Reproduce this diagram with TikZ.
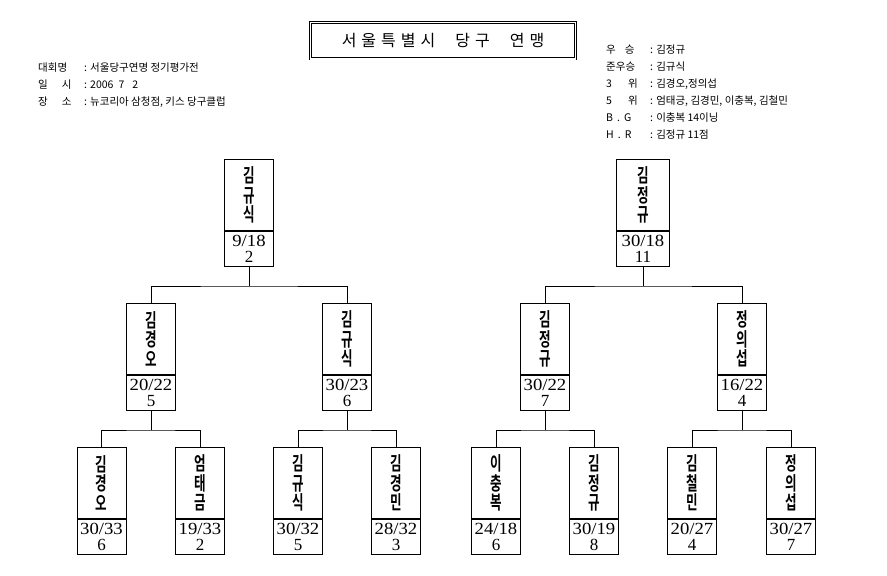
\documentclass[tikz,border=0pt]{standalone}
\usepackage{fontspec}
\usepackage{graphicx}
\setmainfont{Liberation Serif}
\newfontfamily\kor{Noto Sans CJK KR}
\newfontfamily\korbold{Noto Sans CJK KR Bold}
\usetikzlibrary{positioning}

\newcommand{\nch}[1]{\scalebox{0.66}[1]{#1}}
\newcommand{\pname}[3]{\nch{#1}\\\nch{#2}\\\nch{#3}}
\newcommand{\snum}[2]{\scalebox{1.1}[1]{#1}\\#2}
\newcommand{\tsp}{\hspace{5pt}}

\tikzset{
  namebox/.style={draw, line width=1pt, minimum width=49pt, minimum height=71pt, inner sep=0pt,
    align=center, anchor=north, font=\korbold\fontsize{19}{19.5}\selectfont},
  scorebox/.style={draw, line width=1pt, minimum width=49pt, minimum height=35pt, inner sep=0pt,
    align=center, anchor=north, font=\fontsize{17}{16.5}\selectfont},
  info/.style={anchor=west, inner sep=0pt, font=\kor\fontsize{10.5}{12}\selectfont},
  link/.style={line width=1pt}
}

\begin{document}
\begin{tikzpicture}[x=1pt,y=-1pt]
\useasboundingbox[fill=white] (0,0) rectangle (887,576);

% title
\node[draw, double, double distance=1.5pt, line width=0.9pt, minimum width=265pt, minimum height=36.5pt,
  font=\kor\fontsize{16}{16}\selectfont] (title) at (443,40.5)
  {서\tsp 울\tsp 특\tsp 별\tsp 시\hspace{20pt}당\tsp 구\hspace{20pt}연\tsp 맹};

% left info
\node[info] (la1) at (38,68) {대회명};
\node[info] (va1) at (84,68) {: 서울당구연명 정기평가전};
\node[info] (la2) at (38,85) {일\hspace{14pt}시};
\node[info] (va2) at (84,85) {: 2006\hspace{5pt}7\hspace{8pt}2};
\node[info] (la3) at (38,102) {장\hspace{14pt}소};
\node[info] (va3) at (84,102) {: 뉴코리아 삼청점, 키스 당구클럽};

% right info
\node[info] (ra1) at (606,50) {우\hspace{9pt}승};
\node[info] (rv1) at (650,50) {: 김정규};
\node[info] (ra2) at (606,67) {준우승};
\node[info] (rv2) at (650,67) {: 김규식};
\node[info] (ra3) at (606,84) {3\hspace{16pt}위};
\node[info] (rv3) at (650,84) {: 김경오,정의섭};
\node[info] (ra4) at (606,101) {5\hspace{16pt}위};
\node[info] (rv4) at (650,101) {: 엄태긍, 김경민, 이충복, 김철민};
\node[info] (ra5) at (606,118) {B\hspace{4pt}.\hspace{4pt}G};
\node[info] (rv5) at (650,118) {: 이충복 14이닝};
\node[info] (ra6) at (606,135) {H\hspace{4pt}.\hspace{4pt}R};
\node[info] (rv6) at (650,135) {: 김정규 11점};

% final
\node[namebox] (t1) at (249,159) {\pname{김}{규}{식}};
\node[scorebox] (t1s) at (t1.south) {\snum{9/18}{2}};
\node[namebox, minimum width=53pt] (t2) at (643,159) {\pname{김}{정}{규}};
\node[scorebox, minimum width=53pt] (t2s) at (t2.south) {\snum{30/18}{11}};

% semi-final
\node[namebox] (m1) at (151,303) {\pname{김}{경}{오}};
\node[scorebox] (m1s) at (m1.south) {\snum{20/22}{5}};
\node[namebox] (m2) at (347,303) {\pname{김}{규}{식}};
\node[scorebox] (m2s) at (m2.south) {\snum{30/23}{6}};
\node[namebox] (m3) at (545,303) {\pname{김}{정}{규}};
\node[scorebox] (m3s) at (m3.south) {\snum{30/22}{7}};
\node[namebox] (m4) at (742,303) {\pname{정}{의}{섭}};
\node[scorebox] (m4s) at (m4.south) {\snum{16/22}{4}};

% quarter-final
\node[namebox] (b1) at (101.5,447) {\pname{김}{경}{오}};
\node[scorebox] (b1s) at (b1.south) {\snum{30/33}{6}};
\node[namebox] (b2) at (200,447) {\pname{엄}{태}{금}};
\node[scorebox] (b2s) at (b2.south) {\snum{19/33}{2}};
\node[namebox] (b3) at (298,447) {\pname{김}{규}{식}};
\node[scorebox] (b3s) at (b3.south) {\snum{30/32}{5}};
\node[namebox] (b4) at (396,447) {\pname{김}{경}{민}};
\node[scorebox] (b4s) at (b4.south) {\snum{28/32}{3}};
\node[namebox] (b5) at (496,447) {\pname{이}{충}{복}};
\node[scorebox] (b5s) at (b5.south) {\snum{24/18}{6}};
\node[namebox] (b6) at (594,447) {\pname{김}{정}{규}};
\node[scorebox] (b6s) at (b6.south) {\snum{30/19}{8}};
\node[namebox] (b7) at (692,447) {\pname{김}{철}{민}};
\node[scorebox] (b7s) at (b7.south) {\snum{20/27}{4}};
\node[namebox] (b8) at (791,447) {\pname{정}{의}{섭}};
\node[scorebox] (b8s) at (b8.south) {\snum{30/27}{7}};

% brackets
\draw[link] (t1s.south) -- ++(0,19) coordinate (jt1);
\draw[link] (m1.north) |- (jt1) -| (m2.north);
\draw[link] (t2s.south) -- ++(0,19) coordinate (jt2);
\draw[link] (m3.north) |- (jt2) -| (m4.north);

\draw[link] (m1s.south) -- ++(0,19) coordinate (jm1);
\draw[link] (b1.north) |- (jm1) -| (b2.north);
\draw[link] (m2s.south) -- ++(0,19) coordinate (jm2);
\draw[link] (b3.north) |- (jm2) -| (b4.north);
\draw[link] (m3s.south) -- ++(0,19) coordinate (jm3);
\draw[link] (b5.north) |- (jm3) -| (b6.north);
\draw[link] (m4s.south) -- ++(0,19) coordinate (jm4);
\draw[link] (b7.north) |- (jm4) -| (b8.north);
\end{tikzpicture}
\end{document}
